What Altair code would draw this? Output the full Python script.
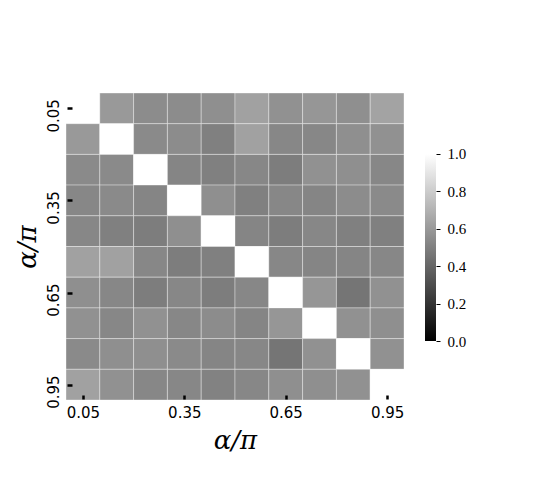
import altair as alt
import pandas as pd

alphas = [0.05, 0.15, 0.25, 0.35, 0.45, 0.55, 0.65, 0.75, 0.85, 0.95]
tick_values = [0.05, 0.35, 0.65, 0.95]
colorbar_ticks = [0.0, 0.2, 0.4, 0.6, 0.8, 1.0]

row_005 = [1.00, 0.60, 0.55, 0.55, 0.56, 0.63, 0.57, 0.59, 0.56, 0.64]
row_015 = [0.60, 1.00, 0.54, 0.55, 0.50, 0.63, 0.53, 0.53, 0.56, 0.57]
row_025 = [0.54, 0.54, 1.00, 0.52, 0.50, 0.53, 0.49, 0.57, 0.56, 0.53]
row_035 = [0.53, 0.54, 0.52, 1.00, 0.56, 0.50, 0.53, 0.52, 0.55, 0.54]
row_045 = [0.53, 0.50, 0.49, 0.56, 1.00, 0.52, 0.49, 0.53, 0.50, 0.50]
row_055 = [0.63, 0.63, 0.53, 0.49, 0.50, 1.00, 0.53, 0.52, 0.52, 0.53]
row_065 = [0.56, 0.53, 0.49, 0.53, 0.49, 0.53, 1.00, 0.59, 0.46, 0.57]
row_075 = [0.57, 0.53, 0.57, 0.53, 0.55, 0.52, 0.59, 1.00, 0.57, 0.56]
row_085 = [0.54, 0.56, 0.56, 0.54, 0.52, 0.53, 0.46, 0.57, 1.00, 0.57]
row_095 = [0.63, 0.57, 0.53, 0.53, 0.51, 0.53, 0.56, 0.56, 0.57, 1.00]

rows = [row_005, row_015, row_025, row_035, row_045,
        row_055, row_065, row_075, row_085, row_095]

# colour range of the colorbar
cbar_lo = [0.0]
cbar_hi = [1.0]

records = []
for i, ya in enumerate(alphas):
    for j, xa in enumerate(alphas):
        records.append({"xa": xa, "ya": ya, "value": rows[i][j]})
df = pd.DataFrame(records)

cbar_df = pd.DataFrame({"lo": cbar_lo, "hi": cbar_hi, "c0": [0.0], "c1": [1.0]})

half = 0.05

heat = (
    alt.Chart(df)
    .transform_calculate(
        x0=f"datum.xa - {half}", x1=f"datum.xa + {half}",
        y0=f"datum.ya - {half}", y1=f"datum.ya + {half}",
    )
    .mark_rect(stroke="white", strokeWidth=0.6, strokeOpacity=0.6)
    .encode(
        x=alt.X("x0:Q", scale=alt.Scale(domain=[0, 1], nice=False, zero=False),
                axis=alt.Axis(values=tick_values, format=".2f", title="α/π",
                              offset=-5, tickSize=4, tickWidth=2.5, tickColor="black",
                              labelPadding=6, titlePadding=7, zindex=1)),
        x2="x1:Q",
        y=alt.Y("y0:Q", scale=alt.Scale(domain=[0, 1], nice=False, zero=False, reverse=True),
                axis=alt.Axis(values=tick_values, format=".2f", title="α/π",
                              offset=-6, tickSize=5, tickWidth=2.5, tickColor="black",
                              labelAngle=270, labelAlign="center", labelBaseline="bottom",
                              labelOffset=7, labelPadding=6, titlePadding=6, zindex=1)),
        y2="y1:Q",
        color=alt.Color("value:Q",
                        scale=alt.Scale(domain=[0, 1], range=["#000000", "#ffffff"], interpolate="rgb"),
                        legend=None),
    )
    .properties(width=338, height=307)
)

gradient = alt.LinearGradient(
    gradient="linear",
    stops=[alt.GradientStop(color="#000000", offset=0),
           alt.GradientStop(color="#ffffff", offset=1)],
    x1=0, x2=0, y1=1, y2=0,
)

cbar = (
    alt.Chart(cbar_df)
    .mark_rect(fill=gradient)
    .encode(
        x=alt.X("c0:Q", scale=alt.Scale(domain=[0, 1], nice=False, zero=False), axis=None),
        x2="c1:Q",
        y=alt.Y("lo:Q", scale=alt.Scale(domain=[-0.3155, 1.3262], nice=False, zero=False),
                axis=alt.Axis(orient="right", values=colorbar_ticks, format=".1f", title=None,
                              tickSize=4, tickWidth=1, tickColor="black",
                              labelFont="Liberation Serif", labelFontSize=15,
                              labelPadding=7, labelBaseline="middle")),
        y2="hi:Q",
    )
    .properties(width=11, height=307)
)

chart = (
    alt.hconcat(heat, cbar, spacing=21, bounds="flush")
    .properties(padding={"left": 6, "top": 84, "right": 5, "bottom": 5},
                autosize=alt.AutoSizeParams(type="pad"))
    .configure_view(stroke=None)
    .configure_axis(domain=False, grid=False,
                    labelFont="DejaVu Sans", labelFontSize=15, labelColor="black",
                    titleFont="DejaVu Serif", titleFontSize=26, titleFontStyle="italic",
                    titleFontWeight="normal", titleColor="black")
)

chart.save("out.html", embed_options={"renderer": "svg", "actions": False})
